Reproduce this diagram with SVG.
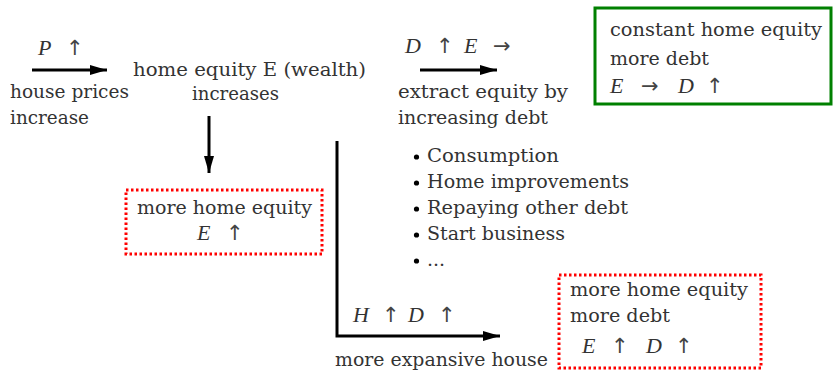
<svg xmlns="http://www.w3.org/2000/svg" width="837" height="372" viewBox="0 0 837 372">
<defs>
<marker id="ah" viewBox="0 0 17 10" refX="17" refY="5" markerWidth="17" markerHeight="10" markerUnits="userSpaceOnUse" orient="auto">
<path d="M0,0 L17,5 L0,10 Z" fill="#000"/>
</marker>
<style>
text{font-family:"DejaVu Serif","Liberation Serif",serif;font-size:19px;fill:#333}
.i{font-style:italic;font-size:20px;font-family:"Liberation Serif","DejaVu Serif",serif;font-size:22px}
.a{font-family:"DejaVu Sans",sans-serif;font-size:21px;fill:#444}
.arr{stroke:#000;stroke-width:3;fill:none}
.red{fill:none;stroke:#f00;stroke-width:3;stroke-dasharray:2.5 2.5}
.grn{fill:none;stroke:#008000;stroke-width:3}
.b{fill:#000}
</style>
</defs>
<rect width="837" height="372" fill="#fff"/>
<g id="n-house-prices">
<text x="10" y="98" textLength="119" lengthAdjust="spacingAndGlyphs">house prices</text>
<text x="10" y="124" textLength="79" lengthAdjust="spacingAndGlyphs">increase</text>
</g>
<g id="n-home-equity">
<text x="133" y="76" textLength="233" lengthAdjust="spacingAndGlyphs">home equity E (wealth)</text>
<text x="192" y="100" textLength="87" lengthAdjust="spacingAndGlyphs">increases</text>
</g>
<g id="n-more-equity">
<rect class="red" x="126" y="190" width="196" height="64"/>
<text x="137" y="214" textLength="175" lengthAdjust="spacingAndGlyphs">more home equity</text>
<text y="240"><tspan class="i" x="197">E</tspan><tspan class="a" x="226">↑</tspan></text>
</g>
<g id="n-extract">
<text x="398" y="98" textLength="170" lengthAdjust="spacingAndGlyphs">extract equity by</text>
<text x="398" y="124" textLength="150" lengthAdjust="spacingAndGlyphs">increasing debt</text>
</g>
<g id="n-constant">
<rect class="grn" x="595" y="8" width="236" height="96"/>
<text x="610" y="36" textLength="212" lengthAdjust="spacingAndGlyphs">constant home equity</text>
<text x="610" y="65" textLength="99" lengthAdjust="spacingAndGlyphs">more debt</text>
<text y="93"><tspan class="i" x="610">E</tspan><tspan class="a" x="641">→</tspan><tspan class="i" x="678">D</tspan><tspan class="a" x="706">↑</tspan></text>
</g>
<g id="n-list">
<circle class="b" cx="416.5" cy="157" r="2.6"/>
<circle class="b" cx="416.5" cy="183" r="2.6"/>
<circle class="b" cx="416.5" cy="209" r="2.6"/>
<circle class="b" cx="416.5" cy="235" r="2.6"/>
<circle class="b" cx="416.5" cy="261" r="2.6"/>
<text x="427" y="162" textLength="132" lengthAdjust="spacingAndGlyphs">Consumption</text>
<text x="427" y="188" textLength="202" lengthAdjust="spacingAndGlyphs">Home improvements</text>
<text x="427" y="214" textLength="201" lengthAdjust="spacingAndGlyphs">Repaying other debt</text>
<text x="427" y="240" textLength="138" lengthAdjust="spacingAndGlyphs">Start business</text>
<text x="427" y="266">...</text>
</g>
<g id="n-expansive">
<text x="335" y="366" textLength="213" lengthAdjust="spacingAndGlyphs">more expansive house</text>
</g>
<g id="n-more-both">
<rect class="red" x="559" y="275" width="202" height="93"/>
<text x="570" y="296" textLength="178" lengthAdjust="spacingAndGlyphs">more home equity</text>
<text x="570" y="322" textLength="100" lengthAdjust="spacingAndGlyphs">more debt</text>
<text y="353"><tspan class="i" x="582">E</tspan><tspan class="a" x="611">↑</tspan><tspan class="i" x="646">D</tspan><tspan class="a" x="675">↑</tspan></text>
</g>
<g id="connectors">
<line class="arr" x1="32" y1="70" x2="107" y2="70" marker-end="url(#ah)"/>
<text y="55"><tspan class="i" x="38">P</tspan><tspan class="a" x="66">↑</tspan></text>
<line class="arr" x1="420" y1="70" x2="497" y2="70" marker-end="url(#ah)"/>
<text y="53"><tspan class="i" x="405">D</tspan><tspan class="a" x="436">↑</tspan><tspan class="i" x="464">E</tspan><tspan class="a" x="493">→</tspan></text>
<line class="arr" x1="209" y1="116" x2="209" y2="173" marker-end="url(#ah)"/>
<polyline class="arr" points="337,141 337,336 500,336" marker-end="url(#ah)"/>
<text y="322"><tspan class="i" x="353">H</tspan><tspan class="a" x="382">↑</tspan><tspan class="i" x="408">D</tspan><tspan class="a" x="438">↑</tspan></text>
</g>
</svg>
